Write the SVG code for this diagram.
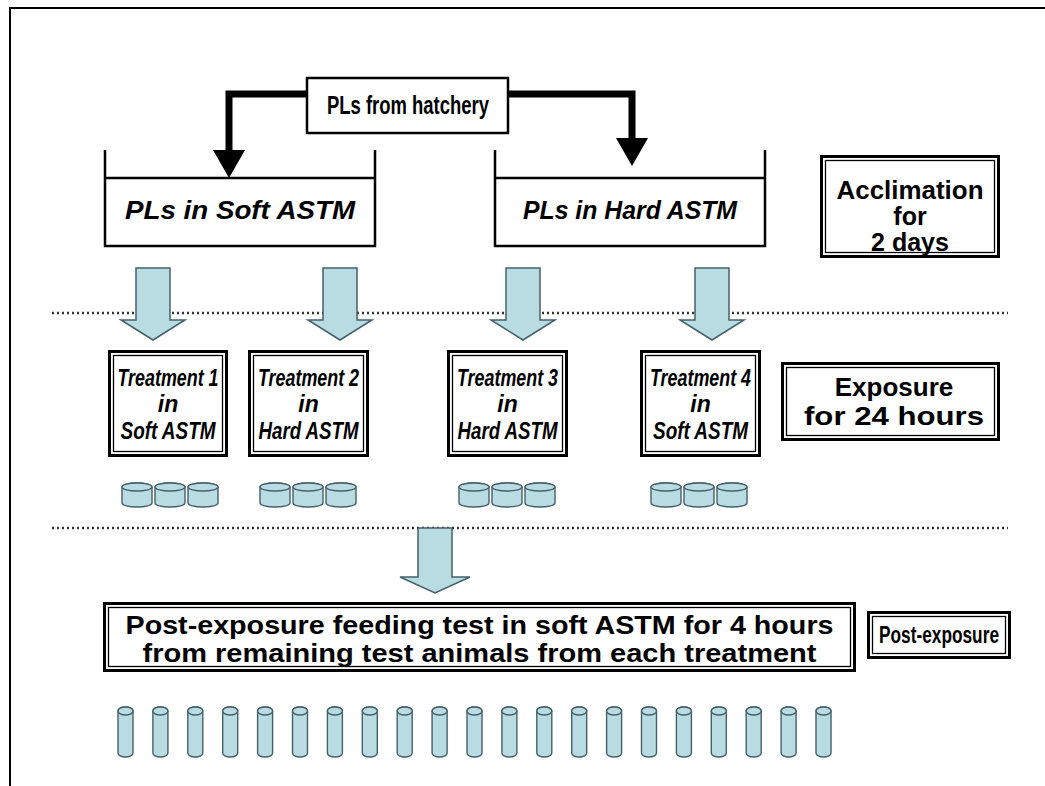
<svg xmlns="http://www.w3.org/2000/svg" width="1045" height="786" viewBox="0 0 1045 786">
<style>
.t{font-family:"Liberation Sans",Arial,sans-serif;font-weight:bold;fill:#000;text-anchor:middle}
.i{font-style:italic}
.f26{font-size:26px}
.f25{font-size:25px}
.f23{font-size:23px}
.ln{fill:none;stroke:#000;stroke-width:2.5}
.thick{fill:none;stroke:#000;stroke-width:7;stroke-linejoin:miter}
.head{fill:#000}
.o{fill:#fff;stroke:#000;stroke-width:3}
.in{fill:none;stroke:#000;stroke-width:1.3}
.blue{fill:#b8dce2;stroke:#45606a;stroke-width:1.5;stroke-linejoin:miter}
.dot{fill:none;stroke:#333;stroke-width:2.5;stroke-dasharray:2 3}
.cyl{fill:#b8dce2;stroke:#45606a;stroke-width:1.4}
</style>
<defs>
<g id="dish"><path class="cyl" d="M0,4 V20 A15,4 0 0 0 30,20 V4 A15,4 0 0 0 0,4 Z"/><ellipse class="cyl" cx="15" cy="4" rx="15" ry="4"/></g>
<g id="tube"><path class="cyl" d="M0,4 V46 A7.5,4 0 0 0 15,46 V4 A7.5,4 0 0 0 0,4 Z"/><ellipse class="cyl" cx="7.5" cy="4" rx="7.5" ry="4"/></g>
</defs>
<rect width="1045" height="786" fill="#fff"/>
<path d="M10,786 V8 H1045" fill="none" stroke="#000" stroke-width="2"/>

<g id="separators">
<line class="dot" x1="52" y1="313" x2="1008" y2="313"/>
<line class="dot" x1="52" y1="528" x2="1008" y2="528"/>
</g>

<g id="connectors">
<polyline class="thick" points="307,94 229,94 229,151"/>
<polygon class="head" points="213,150 245,150 229,178"/>
<polyline class="thick" points="508,94 632,94 632,139"/>
<polygon class="head" points="616,138 648,138 632,166"/>
<path class="blue" d="M136,268 H170 V320 H185 L153,340 L121,320 H136 Z"/>
<path class="blue" d="M323,268 H357 V320 H372 L340,340 L308,320 H323 Z"/>
<path class="blue" d="M506,268 H540 V320 H555 L523,340 L491,320 H506 Z"/>
<path class="blue" d="M695,268 H729 V320 H744 L712,340 L680,320 H695 Z"/>
<path class="blue" d="M418,528 H452 V577 H470 L435,593 L400,577 H418 Z"/>
</g>

<g id="hatchery">
<rect x="307" y="78" width="201" height="55" fill="#fff" stroke="#000" stroke-width="2.5"/>
<text class="t f26" x="408" y="114" textLength="162" lengthAdjust="spacingAndGlyphs">PLs from hatchery</text>
</g>

<g id="tank-soft">
<path class="ln" d="M105,150 V246 H375 V150"/>
<line class="ln" x1="105" y1="178" x2="375" y2="178"/>
<text class="t i f26" x="240" y="219" textLength="230" lengthAdjust="spacingAndGlyphs">PLs in Soft ASTM</text>
</g>

<g id="tank-hard">
<path class="ln" d="M495,150 V246 H765 V150"/>
<line class="ln" x1="495" y1="178" x2="765" y2="178"/>
<text class="t i f26" x="630" y="219" textLength="214" lengthAdjust="spacingAndGlyphs">PLs in Hard ASTM</text>
</g>

<g id="acclimation">
<rect class="o" x="821.5" y="156.5" width="177" height="100"/>
<rect class="in" x="825.5" y="160.5" width="169" height="92"/>
<text class="t f25" x="910" y="199" textLength="147" lengthAdjust="spacingAndGlyphs">Acclimation</text>
<text class="t f25" x="910" y="225">for</text>
<text class="t f25" x="910" y="251">2 days</text>
</g>

<g id="treatment1">
<rect class="o" x="109.5" y="351.5" width="117" height="104"/>
<rect class="in" x="113.5" y="355.5" width="109" height="96"/>
<text class="t i f23" x="168" y="386" textLength="101" lengthAdjust="spacingAndGlyphs">Treatment 1</text>
<text class="t i f23" x="168" y="412">in</text>
<text class="t i f23" x="168" y="439" textLength="95" lengthAdjust="spacingAndGlyphs">Soft ASTM</text>
</g>

<g id="treatment2">
<rect class="o" x="249.5" y="351.5" width="118" height="104"/>
<rect class="in" x="253.5" y="355.5" width="110" height="96"/>
<text class="t i f23" x="308.5" y="386" textLength="101" lengthAdjust="spacingAndGlyphs">Treatment 2</text>
<text class="t i f23" x="308.5" y="412">in</text>
<text class="t i f23" x="308.5" y="439" textLength="100" lengthAdjust="spacingAndGlyphs">Hard ASTM</text>
</g>

<g id="treatment3">
<rect class="o" x="448.5" y="351.5" width="118" height="104"/>
<rect class="in" x="452.5" y="355.5" width="110" height="96"/>
<text class="t i f23" x="507.5" y="386" textLength="101" lengthAdjust="spacingAndGlyphs">Treatment 3</text>
<text class="t i f23" x="507.5" y="412">in</text>
<text class="t i f23" x="507.5" y="439" textLength="100" lengthAdjust="spacingAndGlyphs">Hard ASTM</text>
</g>

<g id="treatment4">
<rect class="o" x="641.5" y="351.5" width="118" height="104"/>
<rect class="in" x="645.5" y="355.5" width="110" height="96"/>
<text class="t i f23" x="700.5" y="386" textLength="101" lengthAdjust="spacingAndGlyphs">Treatment 4</text>
<text class="t i f23" x="700.5" y="412">in</text>
<text class="t i f23" x="700.5" y="439" textLength="95" lengthAdjust="spacingAndGlyphs">Soft ASTM</text>
</g>

<g id="exposure">
<rect class="o" x="782.5" y="363.5" width="216" height="76"/>
<rect class="in" x="786.5" y="367.5" width="208" height="68"/>
<text class="t f26" x="894" y="396">Exposure</text>
<text class="t f26" x="894" y="425" textLength="180" lengthAdjust="spacingAndGlyphs">for 24 hours</text>
</g>

<g id="dishes">
<use href="#dish" x="122" y="483"/><use href="#dish" x="155" y="483"/><use href="#dish" x="188" y="483"/>
<use href="#dish" x="260" y="483"/><use href="#dish" x="293" y="483"/><use href="#dish" x="326" y="483"/>
<use href="#dish" x="459" y="483"/><use href="#dish" x="492" y="483"/><use href="#dish" x="525" y="483"/>
<use href="#dish" x="651" y="483"/><use href="#dish" x="684" y="483"/><use href="#dish" x="717" y="483"/>
</g>

<g id="feeding-test">
<rect class="o" x="104.5" y="603.5" width="750" height="67"/>
<rect class="in" x="108.5" y="607.5" width="742" height="59"/>
<text class="t f25" x="479.5" y="634" textLength="708" lengthAdjust="spacingAndGlyphs">Post-exposure feeding test in soft ASTM for 4 hours</text>
<text class="t f25" x="479.5" y="662" textLength="674" lengthAdjust="spacingAndGlyphs">from remaining test animals from each treatment</text>
</g>

<g id="post-exposure">
<rect class="o" x="868.5" y="612.5" width="141" height="45"/>
<rect class="in" x="872.5" y="616.5" width="133" height="37"/>
<text class="t f23" x="939" y="643" textLength="120" lengthAdjust="spacingAndGlyphs">Post-exposure</text>
</g>

<g id="tubes">
<use href="#tube" x="118" y="707"/><use href="#tube" x="152.9" y="707"/><use href="#tube" x="187.8" y="707"/>
<use href="#tube" x="222.7" y="707"/><use href="#tube" x="257.6" y="707"/><use href="#tube" x="292.5" y="707"/>
<use href="#tube" x="327.4" y="707"/><use href="#tube" x="362.3" y="707"/><use href="#tube" x="397.2" y="707"/>
<use href="#tube" x="432.1" y="707"/><use href="#tube" x="467" y="707"/><use href="#tube" x="501.9" y="707"/>
<use href="#tube" x="536.8" y="707"/><use href="#tube" x="571.7" y="707"/><use href="#tube" x="606.6" y="707"/>
<use href="#tube" x="641.5" y="707"/><use href="#tube" x="676.4" y="707"/><use href="#tube" x="711.3" y="707"/>
<use href="#tube" x="746.2" y="707"/><use href="#tube" x="781.1" y="707"/><use href="#tube" x="816" y="707"/>
</g>
</svg>
